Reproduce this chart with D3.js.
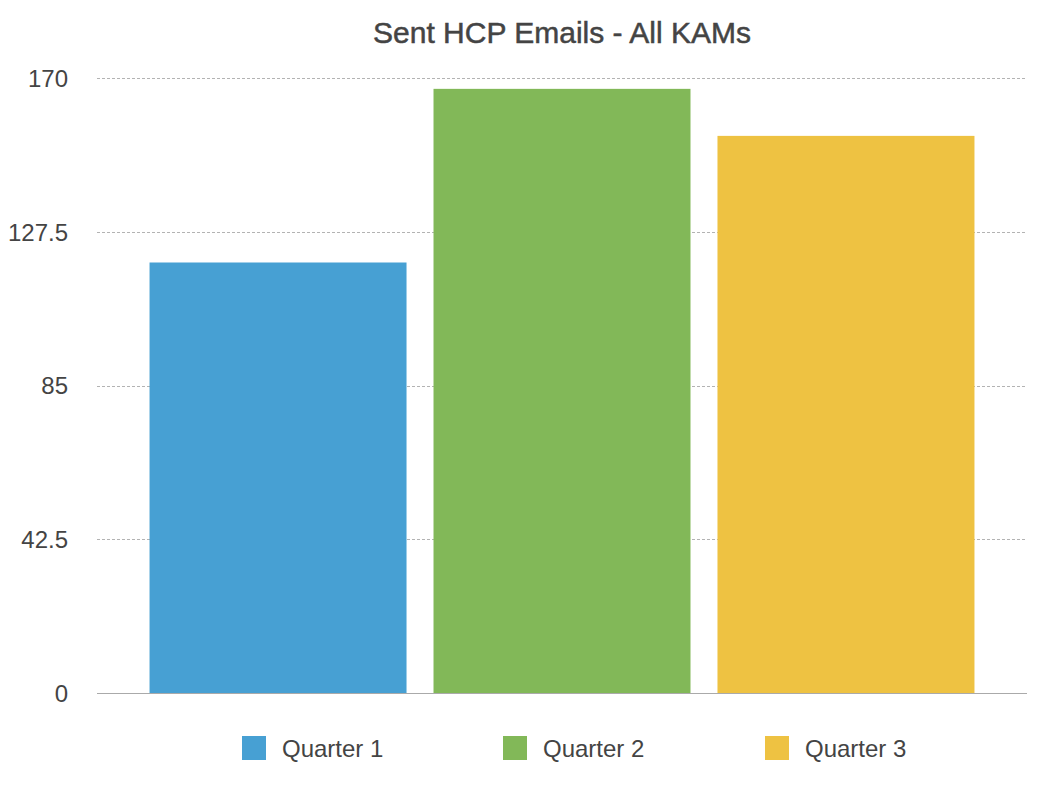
<!DOCTYPE html>
<html>
<head>
<meta charset="utf-8">
<script src="https://cdn.jsdelivr.net/npm/d3@7"></script>
<style>
  html, body { margin: 0; padding: 0; background: #fff; }
  svg { display: block; font-family: "Helvetica Neue", "Liberation Sans", Arial, sans-serif; }
</style>
</head>
<body>
<svg id="chart" width="1048" height="788"></svg>
<script>
const title = "Sent HCP Emails - All KAMs";
const seriesNames = ["Quarter 1", "Quarter 2", "Quarter 3"];
const seriesValues = [119, 167, 154];
const seriesColors = ["#47A0D3", "#82B858", "#EEC242"];
const yTicks = [0, 42.5, 85, 127.5, 170];
const yMax = 170;

const svg = d3.select("#chart");
const plot = { left: 97, right: 1027, top: 78, bottom: 693 };

const y = d3.scaleLinear().domain([0, yMax]).range([plot.bottom, plot.top]);
const x = d3.scaleBand().domain(seriesNames).range([plot.left, plot.right])
  .paddingInner(0.095).paddingOuter(0.185);

// title
svg.append("text")
  .attr("x", (plot.left + plot.right) / 2)
  .attr("y", 43)
  .attr("text-anchor", "middle")
  .attr("font-size", 30)
  .attr("fill", "#444")
  .attr("stroke", "#444")
  .attr("stroke-width", 0.5)
  .text(title);

// grid lines
svg.append("g").selectAll("line").data(yTicks.filter(t => t > 0)).join("line")
  .attr("x1", plot.left).attr("x2", plot.right)
  .attr("y1", d => Math.round(y(d)) + 0.5).attr("y2", d => Math.round(y(d)) + 0.5)
  .attr("stroke", "#b3b3b3").attr("stroke-width", 1)
  .attr("stroke-dasharray", "3,2");

// y axis labels
const yAxis = d3.axisLeft(y).tickValues(yTicks).tickSize(0).tickPadding(0)
  .tickFormat(d => String(d));
const ya = svg.append("g").attr("transform", `translate(${plot.left - 29},0)`).call(yAxis);
ya.select(".domain").remove();
ya.selectAll("text").attr("font-size", 24).attr("fill", "#444")
  .attr("font-family", "\"Helvetica Neue\", \"Liberation Sans\", Arial, sans-serif")
  .attr("dy", "0.35em");

// bars
svg.append("g").selectAll("rect").data(seriesNames).join("rect")
  .attr("x", d => x(d))
  .attr("width", x.bandwidth())
  .attr("y", (d, i) => y(seriesValues[i]))
  .attr("height", (d, i) => y(0) - y(seriesValues[i]))
  .attr("fill", (d, i) => seriesColors[i]);

// baseline
svg.append("line")
  .attr("x1", plot.left).attr("x2", plot.right)
  .attr("y1", plot.bottom + 0.5).attr("y2", plot.bottom + 0.5)
  .attr("stroke", "#aaa").attr("stroke-width", 1);

// legend
const legendX = [242, 503, 765];
const lg = svg.append("g").selectAll("g").data(seriesNames).join("g")
  .attr("transform", (d, i) => `translate(${legendX[i]},736)`);
lg.append("rect").attr("width", 24).attr("height", 24)
  .attr("fill", (d, i) => seriesColors[i]);
lg.append("text").attr("x", 40).attr("y", 13).attr("dy", "0.35em")
  .attr("font-size", 24).attr("fill", "#444").text(d => d);
</script>
</body>
</html>
